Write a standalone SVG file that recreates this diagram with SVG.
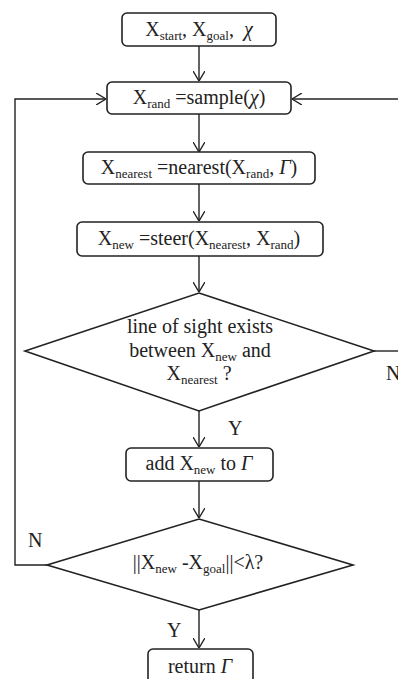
<svg xmlns="http://www.w3.org/2000/svg" width="398" height="679" viewBox="0 0 398 679">
<style>
.n{fill:#fff;stroke:#222;stroke-width:1.6}
.t{font-family:"Liberation Serif","Times New Roman",serif;font-size:20px;fill:#222;text-anchor:middle}
.s{font-size:13px}
.i{font-style:italic}
.c{fill:none;stroke:#222;stroke-width:1.4}
.l{font-family:"Liberation Serif","Times New Roman",serif;font-size:20px;fill:#222}
</style>
<defs>
<marker id="a" viewBox="0 0 10 12" refX="10" refY="6" markerWidth="10" markerHeight="12" markerUnits="userSpaceOnUse" orient="auto">
<path d="M0,0 L10,6 L0,12" fill="none" stroke="#222" stroke-width="1.4"/>
</marker>
</defs>
<g id="connectors">
<line class="c" x1="199" y1="46" x2="199" y2="81" marker-end="url(#a)"/>
<line class="c" x1="199" y1="114" x2="199" y2="152" marker-end="url(#a)"/>
<line class="c" x1="199" y1="184" x2="199" y2="221" marker-end="url(#a)"/>
<line class="c" x1="199" y1="256" x2="199" y2="292" marker-end="url(#a)"/>
<line class="c" x1="199" y1="411" x2="199" y2="447" marker-end="url(#a)"/>
<line class="c" x1="199" y1="481" x2="199" y2="518" marker-end="url(#a)"/>
<line class="c" x1="199" y1="610" x2="199" y2="648" marker-end="url(#a)"/>
<polyline class="c" points="47,565 15,565 15,99 106,99" marker-end="url(#a)"/>
<polyline class="c" points="374,351 398,351"/>
<line class="c" x1="398" y1="99" x2="292" y2="99" marker-end="url(#a)"/>
<text class="l" x="228" y="435">Y</text>
<text class="l" x="386" y="380">N</text>
<text class="l" x="28" y="547">N</text>
<text class="l" x="167" y="637">Y</text>
</g>
<g id="start">
<rect class="n" x="122" y="13" width="154" height="33" rx="5"/>
<text class="t" x="199" y="36">X<tspan class="s" dy="4">start</tspan><tspan dy="-4">, X</tspan><tspan class="s" dy="4">goal</tspan><tspan dy="-4">, </tspan><tspan class="i" dx="5">χ</tspan></text>
</g>
<g id="sample">
<rect class="n" x="107" y="82" width="184" height="32" rx="5"/>
<text class="t" x="199" y="104">X<tspan class="s" dy="4">rand</tspan><tspan dy="-4"> =sample(</tspan><tspan class="i">χ</tspan>)</text>
</g>
<g id="nearest">
<rect class="n" x="83" y="152" width="232" height="32" rx="5"/>
<text class="t" x="199" y="174">X<tspan class="s" dy="4">nearest</tspan><tspan dy="-4"> =nearest(X</tspan><tspan class="s" dy="4">rand</tspan><tspan dy="-4">, </tspan><tspan class="i">Γ</tspan>)</text>
</g>
<g id="steer">
<rect class="n" x="77" y="222" width="246" height="34" rx="5"/>
<text class="t" x="199" y="245">X<tspan class="s" dy="4">new</tspan><tspan dy="-4"> =steer(X</tspan><tspan class="s" dy="4">nearest</tspan><tspan dy="-4">, X</tspan><tspan class="s" dy="4">rand</tspan><tspan dy="-4">)</tspan></text>
</g>
<g id="sight">
<polygon class="n" points="199,293 374,351 199,411 25,351"/>
<text class="t" x="200" y="333">line of sight exists</text>
<text class="t" x="200" y="357">between X<tspan class="s" dy="4">new</tspan><tspan dy="-4"> and</tspan></text>
<text class="t" x="199" y="380">X<tspan class="s" dy="4">nearest</tspan><tspan dy="-4"> ?</tspan></text>
</g>
<g id="add">
<rect class="n" x="126" y="448" width="147" height="33" rx="5"/>
<text class="t" x="199" y="470">add X<tspan class="s" dy="4">new</tspan><tspan dy="-4"> to </tspan><tspan class="i">Γ</tspan></text>
</g>
<g id="goal">
<polygon class="n" points="199,519 353,565 199,610 47,565"/>
<text class="t" x="198" y="569">||X<tspan class="s" dy="4">new</tspan><tspan dy="-4"> -X</tspan><tspan class="s" dy="4">goal</tspan><tspan dy="-4">||&lt;λ?</tspan></text>
</g>
<g id="return">
<rect class="n" x="148" y="649" width="105" height="40" rx="5"/>
<text class="t" x="200" y="673">return <tspan class="i">Γ</tspan></text>
</g>
</svg>
